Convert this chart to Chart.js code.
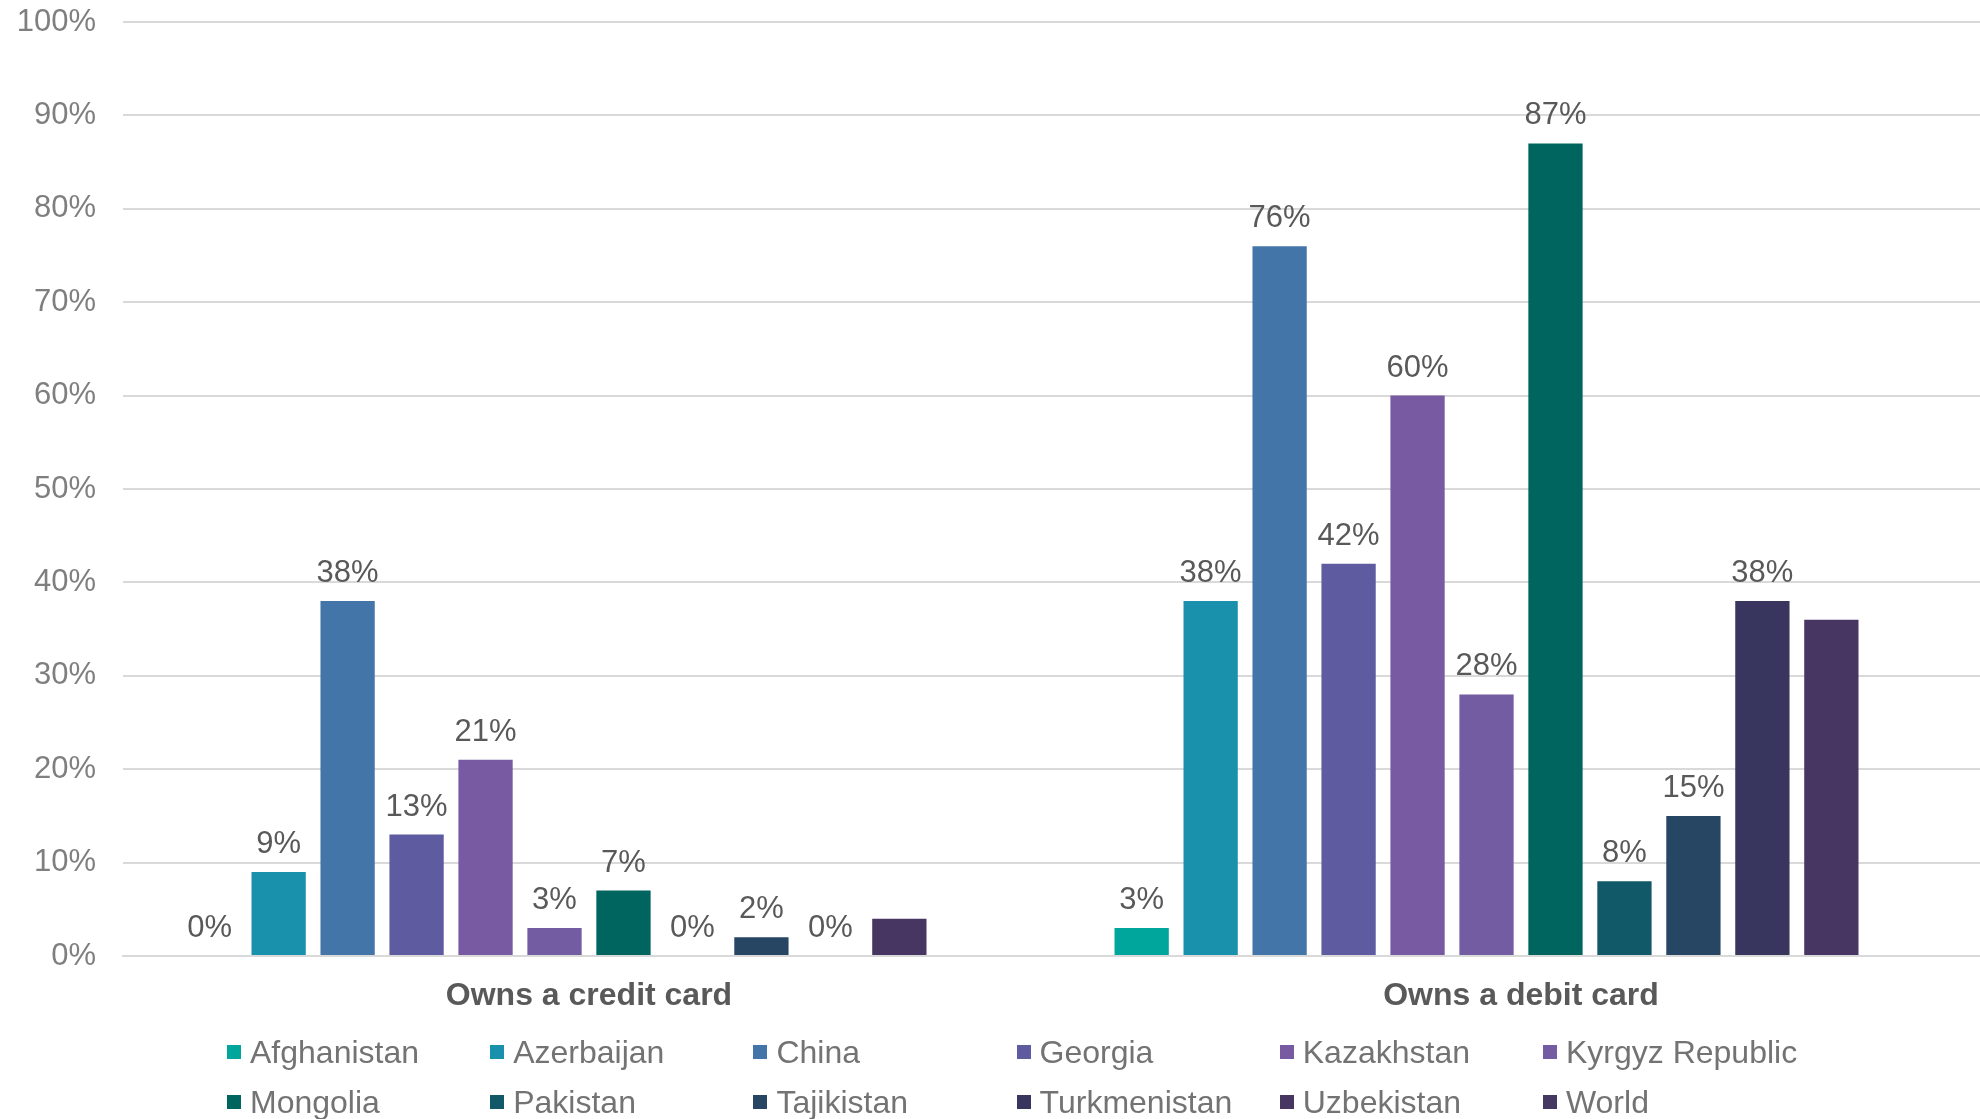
<!DOCTYPE html>
<html lang="en">
<head>
    <meta charset="UTF-8">
    <title>Card ownership</title>
    <script src="https://cdn.jsdelivr.net/npm/chart.js"></script>
    <style>
        body { margin: 0; background: #fff; }
        .quadro { position: relative; width: 1980px; height: 1119px; overflow: hidden; }
        .legenda {
            position: absolute; left: 227px; top: 1034px;
            display: grid; grid-template-columns: repeat(6, 263.2px);
            row-gap: 14px;
            font-family: "Liberation Sans", Arial, sans-serif; font-size: 32px; color: #737373;
        }
        .legenda div { display: flex; align-items: center; height: 36px; white-space: nowrap; }
        .legenda span.cor { width: 14px; height: 14px; margin-right: 9px; display: inline-block; }
    </style>
</head>
<body>
<div class="quadro">
    <!-- área do gráfico passa um pouco da borda direita -->
    <canvas id="grafico_cartoes" width="1987" height="1119"></canvas>
    <div class="legenda" id="legenda_paises"></div>
</div>

<script>
    // categorias do eixo x
    const categorias = ['Owns a credit card', 'Owns a debit card'];

    // países (séries) e cores
    const paises = ['Afghanistan', 'Azerbaijan', 'China', 'Georgia', 'Kazakhstan', 'Kyrgyz Republic',
                    'Mongolia', 'Pakistan', 'Tajikistan', 'Turkmenistan', 'Uzbekistan', 'World'];
    const cores = ['#00a59b', '#1a91ac', '#4475a9', '#5e5ba1', '#775aa2', '#735ca2',
                   '#00655f', '#115868', '#264664', '#38355e', '#483662', '#453862'];

    // valores em % (crédito, débito) por país
    const credito = [0, 9, 38, 13, 21, 3, 7, 0, 2, 0, 4, null];
    const debito  = [3, 38, 76, 42, 60, 28, 87, 8, 15, 38, 36, null];

    // quais séries mostram o rótulo de valor
    const mostrarRotulo = [true, true, true, true, true, true, true, true, true, true, false, false];

    // marcas do eixo y
    const marcasY = [0, 10, 20, 30, 40, 50, 60, 70, 80, 90, 100];

    const fonte = '"Liberation Sans", Arial, sans-serif';

    const datasets = paises.map((pais, i) => ({
        label: pais,
        data: [credito[i], debito[i]],
        backgroundColor: cores[i],
        borderWidth: 0
    }));

    // desenha o valor acima de cada barra
    const rotulosValores = {
        id: 'rotulosValores',
        afterDatasetsDraw(chart) {
            const ctx = chart.ctx;
            ctx.save();
            ctx.font = '31px ' + fonte;
            ctx.fillStyle = '#595959';
            ctx.textAlign = 'center';
            ctx.textBaseline = 'alphabetic';
            chart.data.datasets.forEach((ds, i) => {
                if (!mostrarRotulo[i]) return;
                chart.getDatasetMeta(i).data.forEach((barra, j) => {
                    const v = ds.data[j];
                    if (v === null) return;
                    ctx.fillText(v + '%', barra.x, barra.y - 19);
                });
            });
            ctx.restore();
        }
    };

    const grafico = new Chart(document.getElementById('grafico_cartoes'), {
        type: 'bar',
        data: { labels: categorias, datasets: datasets },
        options: {
            responsive: false,
            animation: false,
            layout: { padding: { left: 17, top: 0, right: 0, bottom: 93 } },
            datasets: { bar: { categoryPercentage: 0.888, barPercentage: 0.787 } },
            plugins: {
                legend: { display: false },
                tooltip: { enabled: false }
            },
            scales: {
                x: {
                    afterFit(axis) {
                        axis.height = 70;
                    },
                    grid: { display: false },
                    border: { display: true, color: '#d9d9d9', width: 2 },
                    ticks: {
                        color: '#595959',
                        padding: 13,
                        font: { family: fonte, size: 32, weight: 'bold' }
                    }
                },
                y: {
                    min: 0,
                    max: 100,
                    afterBuildTicks(axis) {
                        axis.ticks = marcasY.map(v => ({ value: v }));
                    },
                    afterFit(axis) {
                        axis.width = 106;
                        axis.paddingTop = 22;
                        axis.paddingBottom = 0;
                    },
                    grid: { color: '#d9d9d9', lineWidth: 2, drawTicks: false },
                    border: { display: false },
                    ticks: {
                        color: '#7f7f7f',
                        padding: 27,
                        font: { family: fonte, size: 31 },
                        callback: v => v + '%'
                    }
                }
            }
        },
        plugins: [rotulosValores]
    });

    // legenda em grade de 6 colunas
    const legenda = document.getElementById('legenda_paises');
    paises.forEach((pais, i) => {
        const item = document.createElement('div');
        item.innerHTML = `<span class="cor" style="background:${cores[i]}"></span>${pais}`;
        legenda.appendChild(item);
    });
</script>
</body>
</html>
